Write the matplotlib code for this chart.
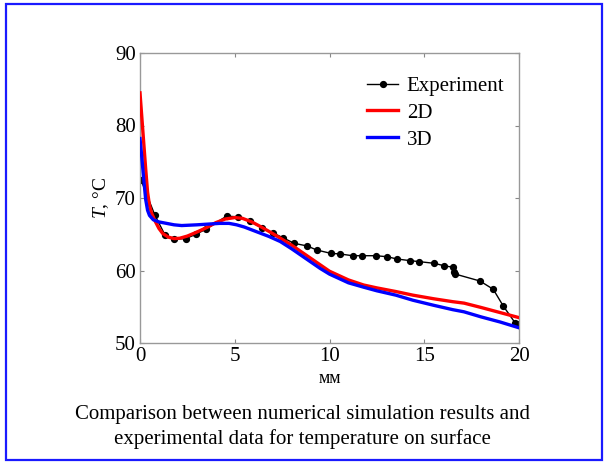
import matplotlib
matplotlib.use("Agg")
import matplotlib.pyplot as plt
from matplotlib.patches import Rectangle

# Experiment data
exp_x = [0.05, 0.79, 1.32, 1.81, 2.41, 2.96, 3.48, 4.57, 5.19, 5.80, 6.42, 7.0, 7.56,
         8.13, 8.83, 9.32, 10.06, 10.55, 11.22, 11.70, 12.44, 13.05, 13.55, 14.25,
         14.74, 15.53, 16.04, 16.53, 16.57, 16.62, 17.94, 18.64, 19.17, 19.79, 19.91]
exp_y = [72.5, 67.6, 64.9, 64.3, 64.4, 65.0, 65.7, 67.5, 67.4, 66.8, 65.9, 65.2, 64.5,
         63.75, 63.38, 62.83, 62.37, 62.28, 62.04, 62.04, 62.04, 61.90, 61.59, 61.36,
         61.22, 60.99, 60.66, 60.44, 59.83, 59.52, 58.55, 57.41, 55.1, 52.8, 52.6]

# 2D simulation
r_x = [0.0, 0.1, 0.2, 0.3, 0.4, 0.5, 0.6, 0.8, 1.0, 1.2, 1.5, 1.8, 2.1, 2.5, 3.0, 3.5,
       4.0, 4.5, 5.0, 5.4, 5.9, 6.4, 7.0, 7.5, 8.0, 8.5, 9.0, 9.5, 10.0, 10.5, 11.0,
       11.8, 12.5, 13.5, 14.4, 15.5, 16.5, 17.1, 18.0, 19.0, 20.0]
r_y = [84.5, 81.0, 77.5, 74.0, 70.8, 69.0, 68.0, 66.8, 65.8, 65.1, 64.6, 64.4, 64.45,
       64.75, 65.3, 65.9, 66.6, 67.1, 67.3, 67.2, 66.7, 66.0, 65.1, 64.3, 63.5, 62.6,
       61.7, 60.8, 59.9, 59.3, 58.7, 58.0, 57.6, 57.1, 56.6, 56.1, 55.7, 55.5, 54.9,
       54.2, 53.5]

# 3D simulation
b_x = [0.0, 0.1, 0.2, 0.3, 0.4, 0.5, 0.7, 1.0, 1.4, 1.8, 2.2, 3.0, 3.6, 4.2, 4.7, 5.1,
       5.5, 6.1, 6.8, 7.4, 8.0, 8.5, 9.0, 9.5, 10.0, 10.5, 11.0, 11.8, 12.5, 13.5, 14.4,
       15.5, 16.5, 17.1, 18.0, 19.0, 20.0]
b_y = [78.2, 75.5, 72.5, 69.8, 68.3, 67.6, 67.0, 66.7, 66.5, 66.3, 66.2, 66.3, 66.4,
       66.5, 66.5, 66.3, 66.0, 65.4, 64.7, 64.0, 63.0, 62.1, 61.2, 60.3, 59.5, 58.9,
       58.3, 57.7, 57.2, 56.6, 55.9, 55.2, 54.6, 54.3, 53.6, 52.9, 52.1]

x_ticks = [0, 5, 10, 15, 20]
y_ticks = [50, 60, 70, 80, 90]

plt.rcParams['font.family'] = ['Liberation Serif', 'DejaVu Serif']
plt.rcParams['mathtext.fontset'] = 'custom'
plt.rcParams['mathtext.it'] = 'Liberation Serif:italic'
plt.rcParams['mathtext.rm'] = 'Liberation Serif'

fig = plt.figure(figsize=(6.05, 4.62), dpi=100)
ax = fig.add_axes([140/605, 1-343/462, 379/605, 290/462])

ax.plot(exp_x, exp_y, color='black', lw=1.0, marker='o', ms=4.2, label='Experiment', zorder=2)
ax.plot(r_x, r_y, color='#ff0000', lw=2.4, label='2D', zorder=3, solid_joinstyle='round')
ax.plot(b_x, b_y, color='#0000ff', lw=2.4, label='3D', zorder=4, solid_joinstyle='round')

ax.set_xlim(0, 20)
ax.set_ylim(50, 90)
ax.set_xticks(x_ticks)
ax.set_yticks(y_ticks)
ax.tick_params(direction='in', length=3, width=0.8, color='#888888', labelsize=15,
               top=True, right=True, pad=3)
for s in ax.spines.values():
    s.set_color('#999999')
    s.set_linewidth(1.0)

ax.set_xlabel('мм', fontsize=13, labelpad=3)
ax.set_ylabel('$T$, °C', fontsize=14, labelpad=3)

leg = ax.legend(loc='upper right', frameon=False, fontsize=15, handlelength=1.5,
                handletextpad=0.4, labelspacing=0.35, borderaxespad=0.3,
                bbox_to_anchor=(1.0, 0.97))

fig.text(0.5, 1-414/462, 'Comparison between numerical simulation results and',
         ha='center', va='center', fontsize=15)
fig.text(0.5, 1-439/462, 'experimental data for temperature on surface',
         ha='center', va='center', fontsize=15)

fig.patches.append(Rectangle((6/605, 1-460/462), 596/605, 456/462, transform=fig.transFigure,
                             fill=False, edgecolor='#1a1aff', lw=1.6))

fig.savefig('out.png', dpi=100)
